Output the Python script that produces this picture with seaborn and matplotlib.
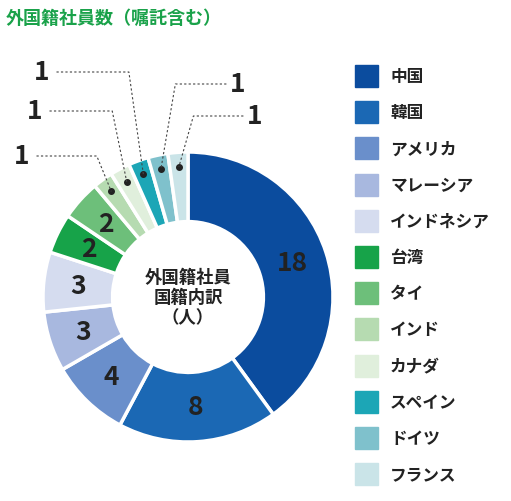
import numpy as np
import matplotlib
matplotlib.use("Agg")
import matplotlib.pyplot as plt
import seaborn as sns
from matplotlib.patches import Rectangle

sns.set_theme(style="white")
plt.rcParams['font.family'] = ['Noto Sans CJK JP', 'DejaVu Sans']

countries = ["中国", "韓国", "アメリカ", "マレーシア", "インドネシア", "台湾", "タイ", "インド", "カナダ", "スペイン", "ドイツ", "フランス"]
counts = [18, 8, 4, 3, 3, 2, 2, 1, 1, 1, 1, 1]
hexes = ["#0b4c9e", "#1b68b4", "#6a8fcb", "#a8b8df", "#d5dcef", "#17a349", "#6dbf7a",
         "#b6dbb1", "#e0efdc", "#1ca6b6", "#7fc1cc", "#cae4e8"]
palette = sns.color_palette(hexes)
title = "外国籍社員数（嘱託含む）"
center_text = "外国籍社員\n国籍内訳\n（人）"

W, H = 511, 502
fig = plt.figure(figsize=(W/100, H/100), dpi=100)
cx, cy, R = 188, 298, 145
ax = fig.add_axes([(cx-R)/W, (H-cy-R)/H, 2*R/W, 2*R/H])
wedges, _ = ax.pie(counts, colors=palette, startangle=90, counterclock=False,
                   wedgeprops=dict(width=0.48, edgecolor="white", linewidth=2.5))
ax.set_xlim(-1, 1); ax.set_ylim(-1, 1)
ax.set_aspect('equal')
ax.set_clip_on(False)

ax.text(0, 0, center_text, ha="center", va="center", fontsize=12.5, fontweight="bold",
        color="#222222", linespacing=1.15)

total = sum(counts)
# outside label positions (pixel) for small slices
outside = {7: (22, 157), 8: (35, 112), 9: (42, 73), 10: (238, 85), 11: (255, 117)}
for i, w in enumerate(wedges):
    ang = np.deg2rad((w.theta1 + w.theta2) / 2)
    if counts[i] >= 2:
        r = 0.76
        ax.text(r*np.cos(ang), r*np.sin(ang), str(counts[i]), ha="center", va="center",
                fontsize=19, fontweight="bold", color="#222222")
    else:
        dx, dy = 0.9*np.cos(ang), 0.9*np.sin(ang)
        ax.plot([dx], [dy], 'o', color="#222222", ms=4, clip_on=False)
        px, py = outside[i]
        lx, ly = (px-cx)/R, (cy-py)/R
        if i >= 10:
            startx = lx - 0.08
            ex = dx + 0.1
        else:
            startx = lx + 0.1
            ex = dx - 0.1
        ax.plot([startx, ex, dx], [ly, ly, dy], ls=(0, (2, 2)), color="#444444", lw=0.8, clip_on=False)
        ax.text(lx, ly, "1", ha="center", va="center", fontsize=19, fontweight="bold",
                color="#222222", clip_on=False)

fig.text(6/W, 1-18/H, title, fontsize=13, fontweight="bold", color="#1aa24a", ha="left", va="center")

for i, (c, col) in enumerate(zip(countries, palette)):
    y = 77 + i*36.2
    fig.patches.append(Rectangle((355/W, 1-(y+11)/H), 23/W, 22/H, color=col,
                                 transform=fig.transFigure, figure=fig))
    fig.text(390/W, 1-y/H, c, fontsize=12, fontweight="bold", color="#222222", ha="left", va="center")

fig.savefig("out.png", dpi=100)
